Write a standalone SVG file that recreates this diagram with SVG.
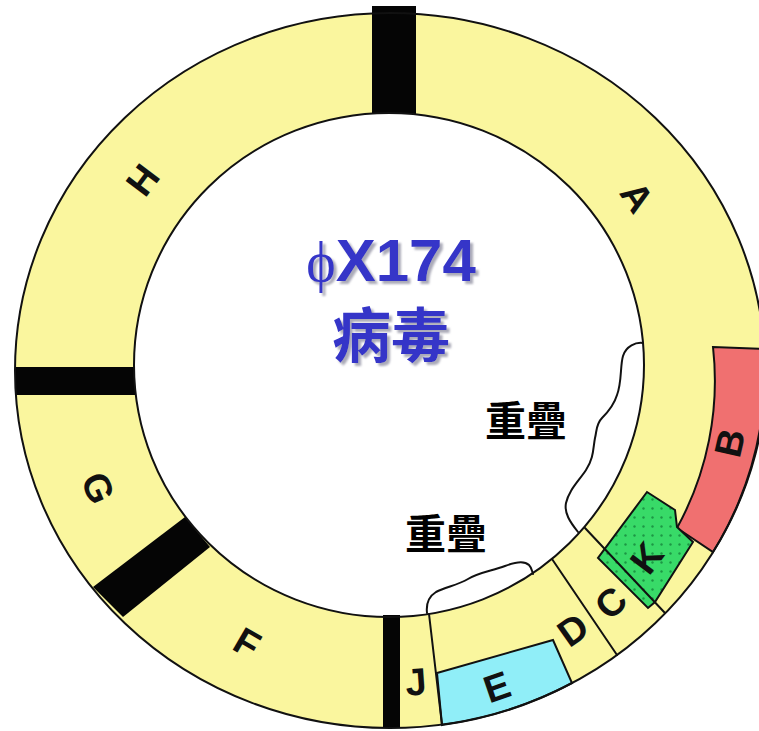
<svg xmlns="http://www.w3.org/2000/svg" width="759" height="731" viewBox="0 0 759 731">
<defs>
<style>
.ring{fill:#FAF69E;stroke:none}
.edge{fill:none;stroke:#111;stroke-width:2}
.bar{fill:#050505;stroke:none}
.div{stroke:#111;stroke-width:2;fill:none;stroke-linecap:round}
.lbl{font-family:"Liberation Sans",Arial,sans-serif;font-size:38px;font-weight:bold;fill:#111;text-anchor:middle;dominant-baseline:central}
.ovl{fill:none;stroke:#111;stroke-width:2;stroke-linejoin:round;stroke-linecap:round}
.title{font-family:"Liberation Sans","Noto Sans CJK TC",sans-serif;font-weight:bold;font-size:60px;fill:#3434C8;text-anchor:middle}
.ovt{font-family:"Noto Sans CJK TC","Liberation Sans",sans-serif;font-weight:bold;font-size:41px;fill:#000;text-anchor:middle}
</style>
<pattern id="dots" width="9" height="9" patternUnits="userSpaceOnUse">
<rect width="9" height="9" fill="#38DA68"/>
<circle cx="4.5" cy="4.5" r="1.2" fill="#1C9644"/>
</pattern>
<filter id="sh" x="-10%" y="-10%" width="130%" height="130%">
<feDropShadow dx="3" dy="3" stdDeviation="1" flood-color="#9c9cac" flood-opacity="0.85"/>
</filter>
</defs>
<rect width="759" height="731" fill="#fff"/>

<g id="ring">
<path class="ring" fill-rule="evenodd" d="M15,370.5 A375,357.5 0 1 1 765,370.5 A375,357.5 0 1 1 15,370.5 Z M134,365 A255,252 0 1 0 644,365 A255,252 0 1 0 134,365 Z"/>
</g>

<g id="gene-B">
<path d="M713,347 L766,349 A375,357.5 0 0 1 713,552 L677,528 A327,315 0 0 0 713,347 Z" fill="#F07070" stroke="#111" stroke-width="2"/>
<text class="lbl" x="730" y="443" transform="rotate(-77 730 443)">B</text>
</g>

<g id="gene-E">
<path d="M437,673 L553,640 L572,683 A375,357.5 0 0 1 442,725 Z" fill="#90EEF8" stroke="#111" stroke-width="2"/>
<text class="lbl" x="497" y="687" transform="rotate(-19 497 687)">E</text>
</g>

<g id="gene-K">
<path d="M647,492 L675,510 L677,527 L693,542 L655,602 L648,608 L598,558 Z" fill="url(#dots)" stroke="#111" stroke-width="2"/>
<text class="lbl" x="647" y="558" transform="rotate(-53 647 558)">K</text>
</g>

<g id="connectors">
<line class="div" x1="585" y1="528" x2="665" y2="613"/>
<line class="div" x1="552" y1="559" x2="617" y2="655"/>
<line class="div" x1="429" y1="614" x2="442" y2="725"/>
</g>

<g id="bars">
<rect class="bar" x="372" y="6" width="44" height="108"/>
<rect class="bar" x="15" y="367" width="120" height="28"/>
<polygon class="bar" points="185,517 210,547 123,617 93,587"/>
<rect class="bar" x="383" y="615" width="17" height="113"/>
</g>

<g id="ring-edges">
<ellipse class="edge" cx="390" cy="370.5" rx="375" ry="357.5"/>
<ellipse class="edge" cx="389" cy="365" rx="255" ry="252"/>
</g>

<g id="gene-A"><text class="lbl" x="637" y="197" transform="rotate(56 637 197)">A</text></g>
<g id="gene-C"><text class="lbl" x="611" y="603" transform="rotate(-43 611 603)">C</text></g>
<g id="gene-D"><text class="lbl" x="573" y="630" transform="rotate(-35 573 630)">D</text></g>
<g id="gene-J"><text class="lbl" x="416" y="682" transform="rotate(-4 416 682)">J</text></g>
<g id="gene-F"><text class="lbl" x="247" y="643" transform="rotate(30 247 643)">F</text></g>
<g id="gene-G"><text class="lbl" x="98" y="488" transform="rotate(67 98 488)">G</text></g>
<g id="gene-H"><text class="lbl" x="143" y="180" transform="rotate(-53 143 180)">H</text></g>

<g id="overlap-1">
<path class="ovl" d="M643,343 C636,342 626,346 623,356 C620,366 622,382 617,395 C614,405 608,412 602,418 C596,424 597,430 595,438 C593,448 594,458 586,470 C578,482 569,490 566,503 C564,513 570,522 578,532"/>
<text class="ovt" x="526" y="436">重疊</text>
</g>
<g id="overlap-2">
<path class="ovl" d="M427,613 C426,604 428,597 436,592 C446,587 458,585 468,579 C480,572 492,571 505,566 C515,562 524,560 529,565 C532,568 532,571 533,574"/>
<text class="ovt" x="446" y="549">重疊</text>
</g>

<g id="title" filter="url(#sh)">
<text class="title" x="391" y="281"><tspan font-family="Liberation Serif" font-weight="normal" font-size="56">ϕ</tspan>X174</text>
<text class="title" x="391" y="357" style="font-family:'Noto Sans CJK TC',sans-serif;font-size:59px">病毒</text>
</g>
</svg>
